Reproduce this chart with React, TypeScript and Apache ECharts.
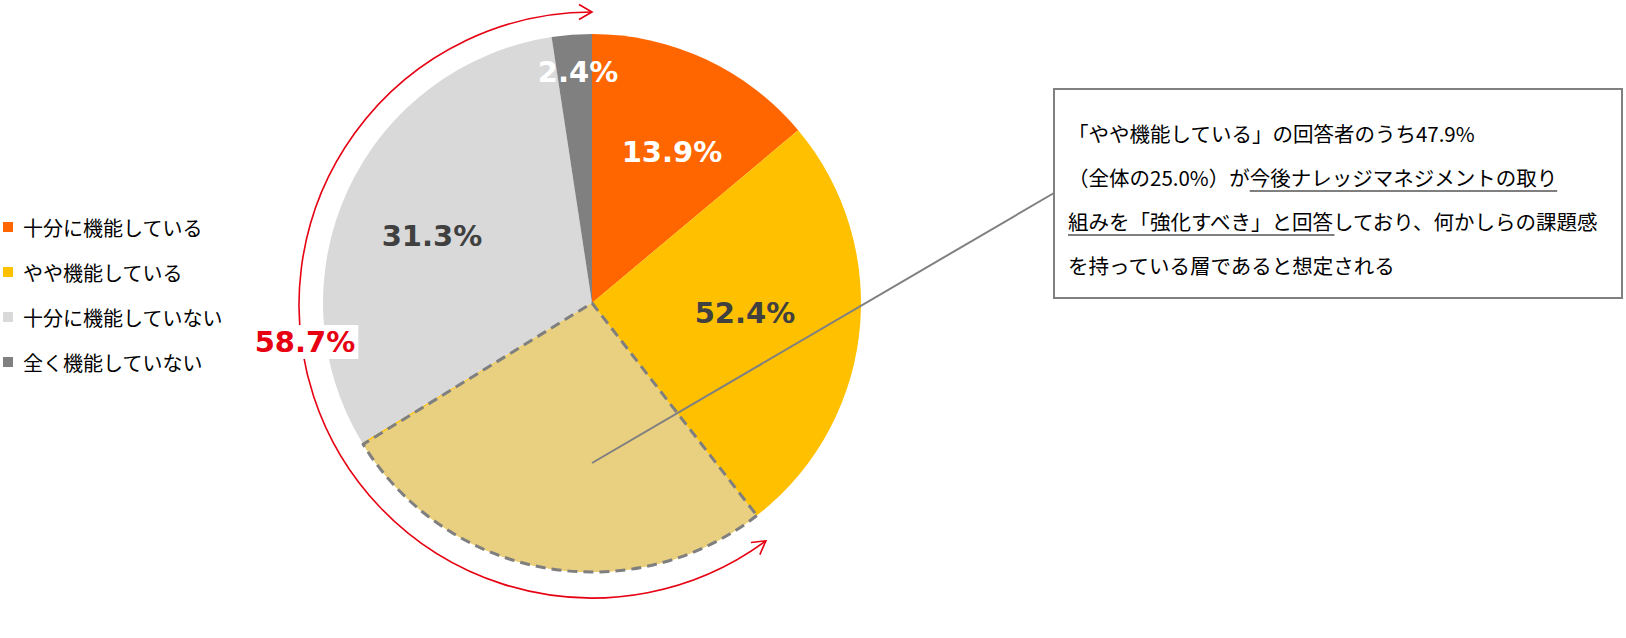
import React, { useEffect, useRef } from "react";
import * as echarts from "echarts";

const CATEGORIES = ["十分に機能している", "やや機能している", "十分に機能していない", "全く機能していない"];
const VALUES = [13.9, 52.4, 31.3, 2.4];
const COLORS = ["#FF6600", "#FFC000", "#D9D9D9", "#808080"];
const LABEL_COLORS = ["#FFFFFF", "#404040", "#404040", "#FFFFFF"];
// label anchor offsets from pie centre (px)
const LABEL_OFFSETS = [[80, -151], [153, 10], [-160, -67], [-14, -231]];
// highlighted (dashed) part drawn over the pie, in % of the circle: gap, highlight, gap
const OVERLAY_VALUES = [39.5, 26.7, 33.8];
const BRACKET_LABEL = "58.7%";
// bracket arc spans from this angle (deg clockwise from top) to 360
const BRACKET_FROM_DEG = 143.6;
const CALLOUT_LINES = [
  "「やや機能している」の回答者のうち47.9%",
  "（全体の25.0%）が今後ナレッジマネジメントの取り",
  "組みを「強化すべき」と回答しており、何かしらの課題感",
  "を持っている層であると想定される",
];
// underlined segments: [lineIndex, startChar, endChar]
const UNDERLINES = [
  [1, 11, 26],
  [2, 0, 13],
];

const CX = 592;
const CY = 303;
const R = 269;
const JP = '"Noto Sans CJK JP", "Noto Sans", sans-serif';

function measure(text: string, size: number, family: string) {
  const c = document.createElement("canvas").getContext("2d")!;
  c.font = `${size}px ${family}`;
  return c.measureText(text).width;
}

export default function App() {
  const ref = useRef<HTMLDivElement>(null);
  useEffect(() => {
    const chart = echarts.init(ref.current!, null, { renderer: "svg" });

    const graphics: any[] = [];
    // percentage labels
    VALUES.forEach((v, i) => {
      graphics.push({
        type: "text",
        z: 20,
        style: {
          text: v.toFixed(1) + "%",
          x: CX + LABEL_OFFSETS[i][0],
          y: CY + LABEL_OFFSETS[i][1],
          fill: LABEL_COLORS[i],
          fontSize: 29,
          fontWeight: "bold",
          fontFamily: '"DejaVu Sans", sans-serif',
          align: "center",
          verticalAlign: "middle",
        },
      });
    });

    // bracket arc
    const BCX = 592, BCY = 305, BR = 293;
    const toRad = (d: number) => (d * Math.PI) / 180;
    graphics.push({
      type: "arc",
      z: 5,
      shape: {
        cx: BCX,
        cy: BCY,
        r: BR,
        startAngle: toRad(BRACKET_FROM_DEG - 90),
        endAngle: toRad(270),
        clockwise: true,
      },
      style: { stroke: "#E60012", lineWidth: 1.6, fill: null },
    });
    const arrow = (thetaDeg: number, dirSign: number) => {
      const t = toRad(thetaDeg);
      const tip = [BCX + BR * Math.sin(t), BCY - BR * Math.cos(t)];
      const dx = Math.cos(t) * dirSign, dy = Math.sin(t) * dirSign;
      const ang = Math.atan2(dy, dx);
      const L = 15, a = toRad(30);
      const p1 = [tip[0] - L * Math.cos(ang - a), tip[1] - L * Math.sin(ang - a)];
      const p2 = [tip[0] - L * Math.cos(ang + a), tip[1] - L * Math.sin(ang + a)];
      return {
        type: "polyline",
        z: 5,
        shape: { points: [p1, tip, p2] },
        style: { stroke: "#E60012", lineWidth: 1.6, fill: null },
      };
    };
    graphics.push(arrow(360, 1));
    graphics.push(arrow(BRACKET_FROM_DEG, -1));
    graphics.push({
      type: "text",
      z: 20,
      style: {
        text: BRACKET_LABEL,
        x: 305,
        y: 342,
        fill: "#E60012",
        fontSize: 29,
        fontWeight: "bold",
        fontFamily: '"DejaVu Sans", sans-serif',
        align: "center",
        verticalAlign: "middle",
        backgroundColor: "#FFFFFF",
        padding: [3, 3, 2, 3],
      },
    });

    // callout connector and box
    graphics.push({
      type: "line",
      z: 15,
      shape: { x1: 592, y1: 463, x2: 1054, y2: 193 },
      style: { stroke: "#808080", lineWidth: 2 },
    });
    graphics.push({
      type: "rect",
      z: 16,
      shape: { x: 1054, y: 89, width: 568, height: 209 },
      style: { fill: "#FFFFFF", stroke: "#808080", lineWidth: 2 },
    });
    const TX = 1068;
    const lineY = [133, 177, 221, 265];
    const FS = 20.5;
    CALLOUT_LINES.forEach((t, i) => {
      graphics.push({
        type: "text",
        z: 17,
        style: {
          text: t,
          x: TX,
          y: lineY[i],
          fill: "#000000",
          fontSize: FS,
          fontFamily: JP,
          verticalAlign: "middle",
        },
      });
    });
    UNDERLINES.forEach(([li, s, e]) => {
      const t = CALLOUT_LINES[li];
      const x1 = TX + measure(t.slice(0, s), FS, JP);
      const x2 = TX + measure(t.slice(0, e), FS, JP);
      graphics.push({
        type: "line",
        z: 17,
        shape: { x1, y1: lineY[li] + 14, x2, y2: lineY[li] + 14 },
        style: { stroke: "#000000", lineWidth: 1.2 },
      });
    });

    chart.setOption({
      animation: false,
      legend: {
        orient: "vertical",
        left: 3,
        top: 217,
        padding: 0,
        itemWidth: 10,
        itemHeight: 10,
        itemGap: 25,
        icon: "rect",
        selectedMode: false,
        data: CATEGORIES,
        textStyle: {
          fontSize: 20,
          lineHeight: 20,
          color: "#000000",
          fontFamily: JP,
          padding: [0, 0, 0, 5],
        },
      },
      series: [
        {
          type: "pie",
          center: [CX, CY],
          radius: R,
          startAngle: 90,
          clockwise: true,
          silent: true,
          label: { show: false },
          labelLine: { show: false },
          emphasis: { disabled: true },
          itemStyle: { borderWidth: 0 },
          data: CATEGORIES.map((n, i) => ({
            name: n,
            value: VALUES[i],
            itemStyle: { color: COLORS[i] },
          })),
        },
        {
          type: "pie",
          center: [CX, CY],
          radius: R,
          startAngle: 90,
          clockwise: true,
          silent: true,
          z: 3,
          label: { show: false },
          labelLine: { show: false },
          emphasis: { disabled: true },
          data: OVERLAY_VALUES.map((v, i) => ({
            name: "overlay" + i,
            value: v,
            itemStyle:
              i === 1
                ? { color: "#E9CF80", borderColor: "#7F7F7F", borderWidth: 3, borderType: [10, 6] }
                : { color: "transparent", borderWidth: 0 },
          })),
        },
      ],
      graphic: graphics,
    });
    return () => chart.dispose();
  }, []);
  return (
    <div
      ref={ref}
      style={{ position: "absolute", left: 0, top: 0, width: 1626, height: 638, background: "#fff" }}
    />
  );
}
